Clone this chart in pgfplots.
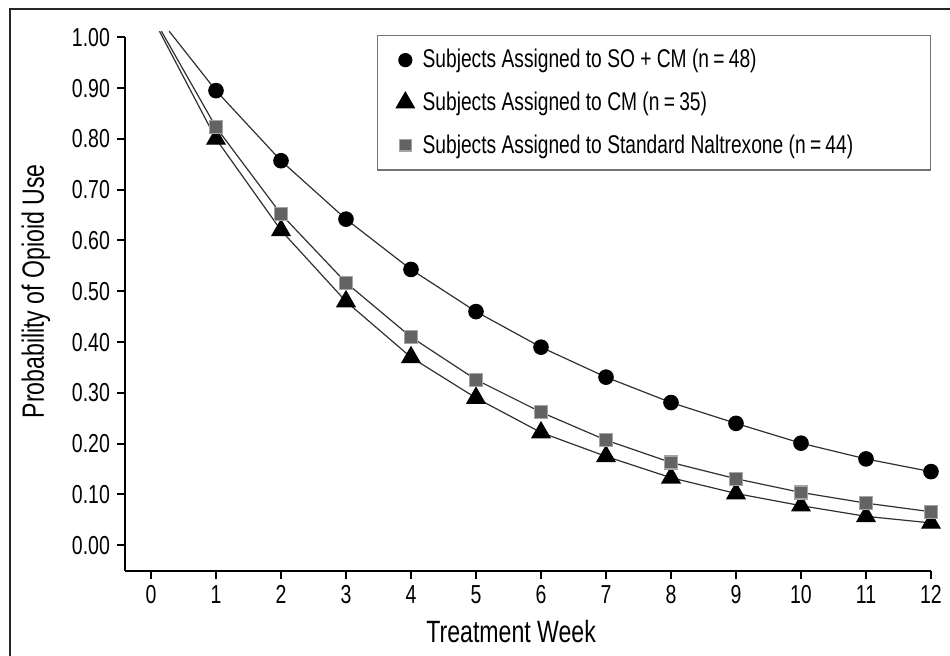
\documentclass[border=0pt]{standalone}
\usepackage{fontspec}
\setmainfont{Liberation Sans}[FakeStretch=0.75]
\usepackage{pgfplots}
\pgfplotsset{compat=1.18}

\definecolor{sqfill}{HTML}{636363}
\definecolor{sqdraw}{HTML}{A5A5A5}
\definecolor{curve}{HTML}{303030}
\newcommand{\legtext}[1]{\makebox[242.3pt][l]{#1}}

\begin{document}
\begin{tikzpicture}
% page is 950 x 656 px, 1 px = 0.5 pt
\path[use as bounding box] (0,0) rectangle (475pt,-328pt);
\begin{scope}
  \clip (0,0) rectangle (475pt,-328pt);
  \draw[line width=1pt, black!85] (5pt,-340pt) -- (5pt,-4.75pt) -- (480pt,-4.75pt);
\end{scope}
\begin{axis}[
    at={(62.5pt,-285.35pt)}, anchor=south west,
    x=32.5pt, y=254pt,
    xmin=-0.4, xmax=12, ymin=-0.05, ymax=1,
    clip=false,
    axis x line*=bottom, axis y line*=left,
    axis line style={-, line width=1pt, black},
    tick align=outside, major tick length=4pt,
    tick style={line width=1pt, black},
    xtick={0,1,2,3,4,5,6,7,8,9,10,11,12},
    ytick={0,0.1,0.2,0.3,0.4,0.5,0.6,0.7,0.8,0.9,1},
    yticklabel style={/pgf/number format/.cd, fixed, fixed zerofill, precision=2},
    /pgf/number format/assume math mode=true,
    tick label style={font=\fontsize{13}{15}\selectfont},
    xlabel={Treatment Week},
    ylabel={Probability of Opioid Use},
    label style={font=\fontsize{15.4}{17}\selectfont},
    xlabel style={at={(axis cs:5.54,-0.17)}, anchor=center},
    ylabel style={at={(axis cs:-1.77,0.5)}, anchor=center, rotate=0},
    legend style={at={(axis cs:12,1.0053)}, anchor=north east,
      draw=black!55, line width=0.75pt, fill=white,
      font=\fontsize{12.8}{15}\selectfont,
      inner xsep=9.5pt, inner ysep=5pt,
      row sep=6.5pt, column sep=2.15pt},
    legend cell align=left,
    legend image code/.code={\draw[#1, mark indices={1}, mark size=\pgfkeysvalueof{/pgfplots/legmark}] plot coordinates {(0pt,0pt)};},
    /pgfplots/legmark/.initial=3pt,
]
% SO + CM
\addplot[curve, line width=0.6pt, mark=*, mark size=3.6pt,
  mark indices={2,3,4,5,6,7,8,9,10,11,12,13},
  mark options={fill=black, draw=black}, legmark=3.25pt]
  coordinates {(0.28,1.012)(1,0.895)(2,0.757)(3,0.642)(4,0.543)(5,0.460)(6,0.390)
    (7,0.331)(8,0.281)(9,0.240)(10,0.201)(11,0.170)(12,0.145)};
\addlegendentry{\legtext{Subjects Assigned to SO + CM (n\,=\,48)}}
% CM
\addplot[curve, line width=0.6pt, mark=triangle*, mark size=5.2pt,
  mark indices={2,3,4,5,6,7,8,9,10,11,12,13},
  mark options={fill=black, draw=black}, legmark=5.2pt]
  coordinates {(0.13,1.012)(1,0.800)(2,0.620)(3,0.480)(4,0.370)(5,0.290)(6,0.222)
    (7,0.175)(8,0.133)(9,0.102)(10,0.078)(11,0.057)(12,0.044)};
\addlegendentry{\legtext{Subjects Assigned to CM (n\,=\,35)}}
% Standard naltrexone
\addplot[curve, line width=0.6pt, mark=square*, mark size=3.25pt,
  mark indices={2,3,4,5,6,7,8,9,10,11,12,13},
  mark options={fill=sqfill, draw=sqdraw, line width=0.6pt}, legmark=2.9pt]
  coordinates {(0.16,1.012)(1,0.823)(2,0.652)(3,0.517)(4,0.410)(5,0.326)(6,0.262)
    (7,0.207)(8,0.163)(9,0.131)(10,0.104)(11,0.083)(12,0.066)};
\addlegendentry{\legtext{Subjects Assigned to Standard Naltrexone (n\,=\,44)}}
\end{axis}
\end{tikzpicture}
\end{document}
